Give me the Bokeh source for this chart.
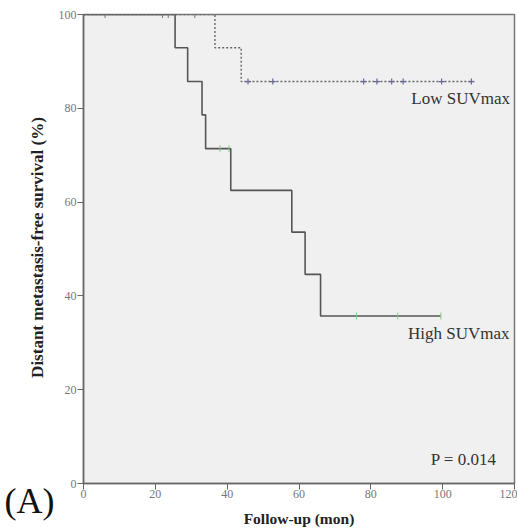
import math
from bokeh.plotting import figure
from bokeh.models import Range1d, Label, FixedTicker
from bokeh.layouts import row
from bokeh.embed import file_html
from bokeh.resources import INLINE

# High SUVmax (solid step curve)
high_time = [0, 25.5, 29.0, 33.0, 34.0, 41.0, 58.0, 61.7, 66.0, 99.5]
high_surv = [100, 92.9, 85.7, 78.6, 71.4, 62.5, 53.6, 44.6, 35.7, 35.7]
high_cens_t = [38.0, 40.5, 76.0, 87.5, 99.5]
high_cens_s = [71.4, 71.4, 35.7, 35.7, 35.7]

# Low SUVmax (dotted step curve)
low_time = [0, 36.6, 43.9, 108.6]
low_surv = [100, 92.9, 85.7, 85.7]
low_cens_t = [45.8, 52.7, 78.0, 81.7, 85.8, 89.0, 99.7, 108.0]
low_cens_s = [85.7] * 8

# early censored cases at 100%
early_cens_t = [6.0, 22.0, 23.6, 31.0]
early_cens_s = [100] * 4

x_ticks = [0, 20, 40, 60, 80, 100, 120]
y_ticks = [0, 20, 40, 60, 80, 100]

SERIF = "Liberation Serif"

# left strip: y-axis title and panel letter
left = figure(width=55, height=529, output_backend="svg", toolbar_location=None,
              x_range=Range1d(0, 1), y_range=Range1d(0, 1),
              x_axis_location=None, y_axis_location=None,
              min_border_left=0, min_border_right=0, min_border_top=0, min_border_bottom=0)
left.outline_line_color = None
left.background_fill_color = "white"
left.border_fill_color = "white"
left.grid.visible = False
left.add_layout(Label(x=37, y=236, x_units="screen", y_units="screen", angle=math.pi / 2,
                      text="Distant metastasis-free survival (%)", text_font=SERIF,
                      text_font_style="bold", text_font_size="17px", text_color="#222222",
                      text_align="center", text_baseline="middle"))
left.add_layout(Label(x=29, y=23, x_units="screen", y_units="screen", text="(A)",
                      text_font=SERIF, text_font_size="36px", text_color="#111111",
                      text_align="center", text_baseline="middle"), "below")

p = figure(width=462, height=529, output_backend="svg", toolbar_location=None,
           x_range=Range1d(0, 120), y_range=Range1d(0, 100),
           min_border_left=26, min_border_right=3, min_border_top=14, min_border_bottom=45)
p.background_fill_color = "#f0f0f0"
p.border_fill_color = "white"
p.outline_line_color = "#777777"
p.outline_line_width = 1.5
p.grid.visible = False

for ax in (p.xaxis[0], p.yaxis[0]):
    ax.major_label_text_font = SERIF
    ax.major_label_text_font_size = "12px"
    ax.major_label_text_color = "#777777"
    ax.axis_line_color = "#666666"
    ax.axis_line_width = 1.5
    ax.major_tick_line_color = "#666666"
    ax.major_tick_out = 6
    ax.major_tick_in = 0
    ax.minor_tick_line_color = None
    ax.axis_label_text_font = SERIF
    ax.axis_label_text_font_style = "bold"
    ax.axis_label_text_color = "#222222"

p.xaxis.axis_label_text_font_size = "15.5px"
p.xaxis.ticker = FixedTicker(ticks=x_ticks)
p.yaxis.ticker = FixedTicker(ticks=y_ticks)
p.xaxis.axis_label = "Follow-up (mon)"
p.xaxis.axis_label_standoff = 9
p.xaxis.major_label_standoff = 0
p.yaxis.major_label_standoff = 1

p.step(high_time, high_surv, mode="after", line_color="#555555", line_width=1.6)
p.step(low_time, low_surv, mode="after", line_color="#666666", line_width=1.4, line_dash="2 2")

p.scatter(early_cens_t, early_cens_s, marker="dash", angle=1.5708, size=7,
          line_color="#777777", line_width=1)
p.scatter(high_cens_t, high_cens_s, marker="dash", angle=1.5708, size=7,
          line_color="#88c888", line_width=1)
p.scatter(low_cens_t, low_cens_s, marker="cross", size=6,
          line_color="#6a6a9a", line_width=1.2)

p.add_layout(Label(x=105, y=82, text="Low SUVmax", text_font=SERIF, text_font_size="17px",
                   text_color="#333333", text_align="center", text_baseline="middle"))
p.add_layout(Label(x=104.5, y=32, text="High SUVmax", text_font=SERIF, text_font_size="17px",
                   text_color="#333333", text_align="center", text_baseline="middle"))
p.add_layout(Label(x=115, y=5.1, text="P = 0.014", text_font=SERIF, text_font_size="17px",
                   text_color="#333333", text_align="right", text_baseline="middle"))

layout = row(left, p, spacing=0)
open("out.html", "w").write(file_html(layout, INLINE))
